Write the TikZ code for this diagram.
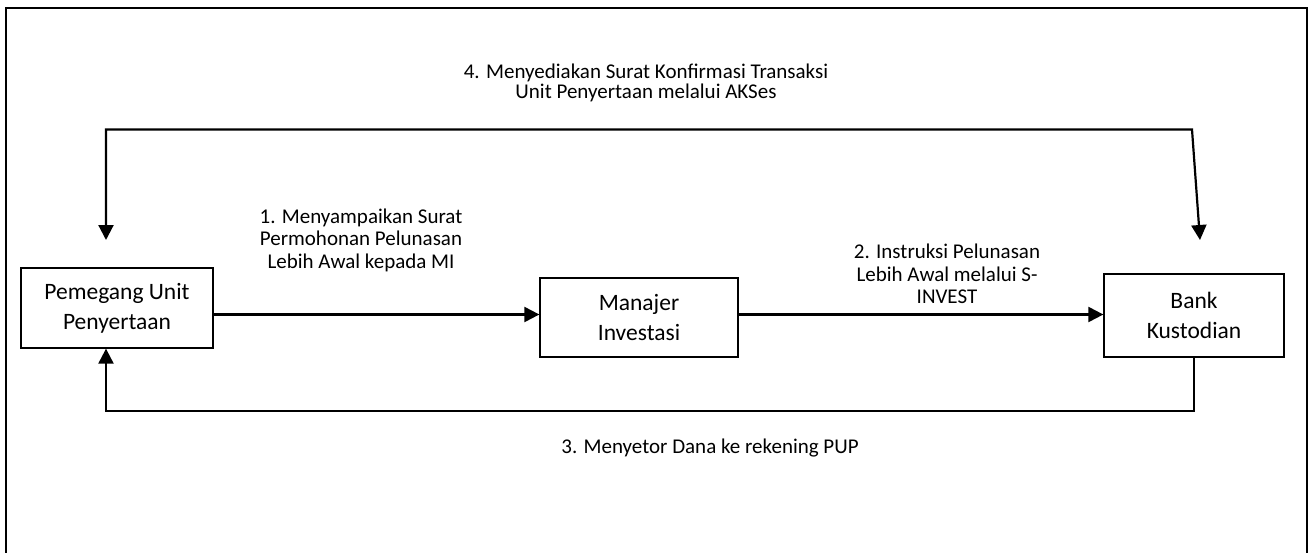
\documentclass[tikz,border=0pt]{standalone}
\usepackage{fontspec}
\setmainfont{Carlito}
\usetikzlibrary{arrows.meta}
\tikzset{
  box/.style={draw=black, line width=1.3pt, align=center, inner sep=0pt,
    font=\fontsize{23.5}{30}\selectfont},
  lbl/.style={align=center, inner sep=0pt, font=\fontsize{21}{22.5}\selectfont},
  arr/.style={line width=2.2pt, -{Triangle[length=15pt,width=15pt]}},
  link/.style={line width=2.2pt},
  thinlink/.style={line width=1.4pt},
}
\begin{document}
\begin{tikzpicture}[x=1pt, y=-1pt]
\useasboundingbox (0,0) rectangle (1310,552);
% outer frame
\draw[line width=2.4pt] (6,560) -- (6,8) -- (1307,8) -- (1307,560);

% boxes
\node[box, minimum width=192pt, minimum height=80pt] (pup) at (117,308) {Pemegang Unit\\Penyertaan};
\node[box, minimum width=198pt, minimum height=79pt] (mi) at (639,317.5) {Manajer\\Investasi};
\node[box, minimum width=180pt, minimum height=83pt] (bk) at (1194,315.5) {Bank\\Kustodian};

% helper coordinates
\coordinate (row) at (0,314.5);
\coordinate (tl) at (106,129.5);
\coordinate (tr) at (1192,129.5);
\coordinate (ta) at (106,240);
\coordinate (tb) at (1200,240);
\coordinate (bl) at (106,411);
\coordinate (bm) at (443,411);

% 1
\draw[arr] (pup.east |- row) -- (mi.west |- row);
% 2
\draw[arr] (mi.east |- row) -- (bk.west |- row);
% 4 (double headed)
\draw[line width=2.2pt, {Triangle[length=15pt,width=15pt]}-{Triangle[length=15pt,width=15pt]}]
  (ta) -- (tl) -- (tr) -- (tb);
% 3
\draw[thinlink] (bk.south) -- (bk.south |- bl) -- (bm);
\draw[arr] (bm) -- (bl) -- (pup.south -| bl);

% labels
\node[lbl, font=\fontsize{21}{20.5}\selectfont] (l4) at (646,83) {4. Menyediakan Surat Konfirmasi Transaksi\\Unit Penyertaan melalui AKSes};
\node[lbl] (l1) at (361,240) {1. Menyampaikan Surat\\Permohonan Pelunasan\\Lebih Awal kepada MI};
\node[lbl] (l2) at (947,274) {2. Instruksi Pelunasan\\Lebih Awal melalui S-\\INVEST};
\node[lbl] (l3) at (710,448) {3. Menyetor Dana ke rekening PUP};
\end{tikzpicture}
\end{document}
